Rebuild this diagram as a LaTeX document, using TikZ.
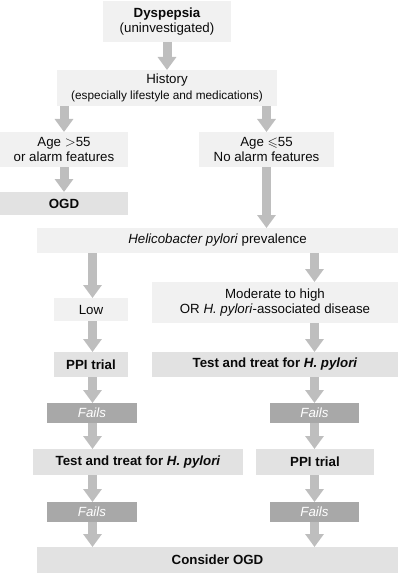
\documentclass[tikz,border=0pt]{standalone}
\usepackage{amssymb}
\usepackage{fontspec}
\setmainfont{Liberation Sans}
\usetikzlibrary{arrows.meta}
\definecolor{lightc}{HTML}{F1F1F1}
\definecolor{midc}{HTML}{E2E2E2}
\definecolor{failc}{HTML}{A8A8A8}
\definecolor{arrc}{HTML}{BEBEBE}
\definecolor{txtc}{HTML}{0A0A0A}
\newcommand\mainfs{\fontsize{13.3}{15.5}\selectfont}
\newcommand\smallfs{\fontsize{11.8}{14}\selectfont}
\tikzset{
  base/.style={inner sep=0pt, outer sep=0pt, anchor=north west, align=center, font=\mainfs, text=txtc},
  light/.style={base, fill=lightc},
  mid/.style={base, fill=midc, font=\mainfs\bfseries},
  fail/.style={base, fill=failc, text=white, font=\mainfs\itshape},
  arr/.style={draw=arrc, line width=9pt, -{Triangle[width=18pt,length=13pt]}}
}
\begin{document}
\begin{tikzpicture}[x=1pt,y=1pt]
\useasboundingbox (0,0) rectangle (400,-575);
\coordinate (colL) at (92.5,0);
\coordinate (colR) at (314.5,0);
% boxes
\node[light, minimum width=128, minimum height=41] (dys) at (103,-1) {{\bfseries Dyspepsia}\\(uninvestigated)};
\node[light, minimum width=220, minimum height=36] (hist) at (57,-70) {History\\{\smallfs (especially lifestyle and medications)}};
\node[light, minimum width=128, minimum height=35] (age1) at (0,-132) {Age $>$55\\or alarm features};
\node[light, minimum width=135, minimum height=35] (age2) at (199,-132) {Age $\leqslant$55\\No alarm features};
\node[mid, minimum width=128, minimum height=23] (ogd) at (0,-192) {OGD};
\node[light, minimum width=361, minimum height=25] (hp) at (37,-228) {\textit{Helicobacter pylori} prevalence};
\node[light, minimum width=74, minimum height=23] (low) at (54,-298) {Low};
\node[light, minimum width=246, minimum height=41] (mod) at (152,-282) {Moderate to high\\OR \textit{H. pylori}-associated disease};
\node[mid, minimum width=74, minimum height=25] (ppi1) at (54,-352) {PPI trial};
\node[mid, minimum width=246, minimum height=25] (tt1) at (152,-352) {Test and treat for \textit{H. pylori}};
\node[fail, minimum width=90, minimum height=20] (f1) at (47,-403) {Fails};
\node[fail, minimum width=89, minimum height=20] (f2) at (270,-403) {Fails};
\node[mid, minimum width=210, minimum height=26] (tt2) at (33,-449) {Test and treat for \textit{H. pylori}};
\node[mid, minimum width=118, minimum height=26] (ppi2) at (256,-449) {PPI trial};
\node[fail, minimum width=90, minimum height=20] (f3) at (47,-502) {Fails};
\node[fail, minimum width=89, minimum height=20] (f4) at (270,-502) {Fails};
\node[mid, minimum width=361, minimum height=26] (cogd) at (37,-547) {Consider OGD};
% arrows
\draw[arr] (dys.south) -- (hist.north);
\draw[arr] (hist.south -| age1.north) -- (age1.north);
\draw[arr] (hist.south -| age2.north) -- (age2.north);
\draw[arr] (age1.south) -- (ogd.north);
\draw[arr] (age2.south) -- (age2.south |- hp.north);
\draw[arr] (hp.south -| colL) -- (low.north -| colL);
\draw[arr] (hp.south -| colR) -- (mod.north -| colR);
\draw[arr] (low.south -| colL) -- (ppi1.north -| colL);
\draw[arr] (mod.south -| colR) -- (tt1.north -| colR);
\draw[arr] (ppi1.south -| colL) -- (f1.north -| colL);
\draw[arr] (tt1.south -| colR) -- (f2.north -| colR);
\draw[arr] (f1.south -| colL) -- (tt2.north -| colL);
\draw[arr] (f2.south -| colR) -- (ppi2.north -| colR);
\draw[arr] (tt2.south -| colL) -- (f3.north -| colL);
\draw[arr] (ppi2.south -| colR) -- (f4.north -| colR);
\draw[arr] (f3.south -| colL) -- (cogd.north -| colL);
\draw[arr] (f4.south -| colR) -- (cogd.north -| colR);
\end{tikzpicture}
\end{document}
